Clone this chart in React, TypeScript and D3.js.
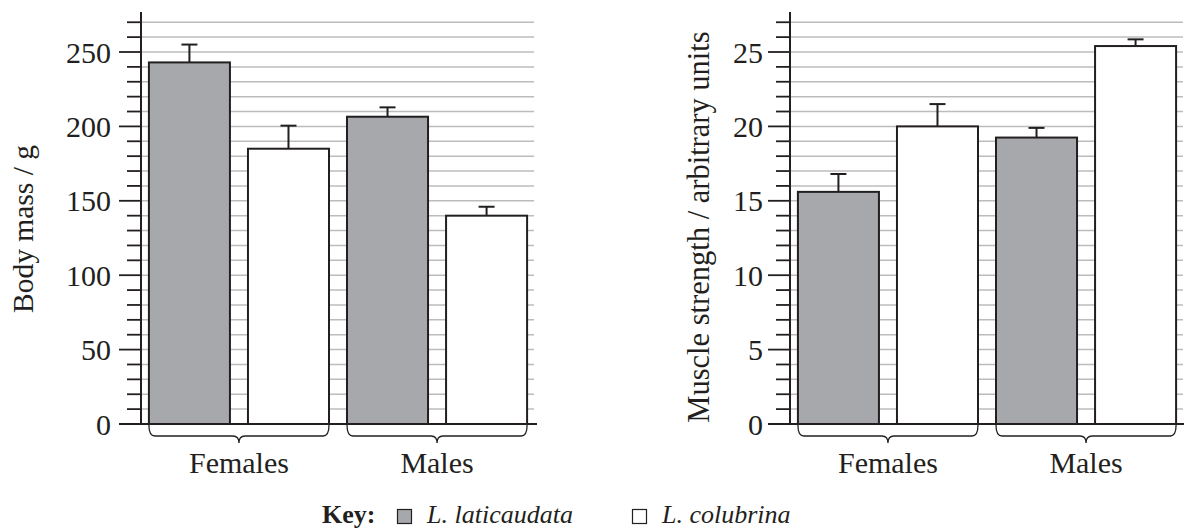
import * as d3 from "d3";

// groups and species
const groups = ["Females", "Males"];
const species = ["L. laticaudata", "L. colubrina"];

// body mass (g): means and error (upper bar length)
const massLaticaudata = [243, 206.5];
const massColubrina = [185, 140];
const massLaticaudataErr = [12, 6.3];
const massColubrinaErr = [15.5, 6];

// muscle strength (arbitrary units)
const strengthLaticaudata = [15.6, 19.25];
const strengthColubrina = [20.0, 25.4];
const strengthLaticaudataErr = [1.2, 0.65];
const strengthColubrinaErr = [1.5, 0.45];

// axis ticks
const massTicks = d3.range(0, 271, 10);
const massLabels = [0, 50, 100, 150, 200, 250];
const strengthTicks = d3.range(0, 28, 1);
const strengthLabels = [0, 5, 10, 15, 20, 25];

const INK = "#231f20";
const GREY = "#a7a8ab";
const GRID = "#bcbcbc";
const FONT = "Liberation Serif, serif";

function Brace({ x0, x1, y }: { x0: number; x1: number; y: number }) {
  const mid = (x0 + x1) / 2;
  const h = 11;
  const r = 6;
  const d = `M${x0},${y} Q${x0},${y + h} ${x0 + r},${y + h} L${mid - r},${y + h} Q${mid},${y + h} ${mid},${y + h + 7} Q${mid},${y + h} ${mid + r},${y + h} L${x1 - r},${y + h} Q${x1},${y + h} ${x1},${y}`;
  return <path d={d} fill="none" stroke={INK} strokeWidth={1.3} />;
}

function Panel({
  left,
  right,
  yMax,
  lat,
  col,
  latErr,
  colErr,
  ticks,
  labels,
  major,
  title,
  titleSize,
  labelX,
  titleX,
  titleY,
}: any) {
  const y = d3.scaleLinear([0, yMax], [424, 52]);
  const x0 = d3.scaleBand(groups, [left - 1, right]).paddingInner(0.0909).paddingOuter(0.045);
  const x1 = d3.scaleBand(species, [0, x0.bandwidth()]).paddingInner(0.182).paddingOuter(0);
  const gridEnd = right - 2;
  const rows = groups.map((g, i) => [
    { g, s: species[0], v: lat[i], e: latErr[i], fill: GREY },
    { g, s: species[1], v: col[i], e: colErr[i], fill: "#fff" },
  ]).flat();

  return (
    <g>
      {/* grid */}
      {ticks.filter((t: number) => t > 0).map((t: number) => (
        <line key={"g" + t} x1={left} x2={gridEnd} y1={y(t)} y2={y(t)} stroke={GRID} strokeWidth={1.5} />
      ))}
      {/* ticks */}
      {ticks.map((t: number) => (
        <line key={"t" + t} x1={left - (t % major === 0 ? 22 : 14)} x2={left} y1={y(t)} y2={y(t)} stroke={INK} strokeWidth={1.8} />
      ))}
      {labels.map((t: number) => (
        <text key={"l" + t} x={labelX} y={y(t)} dy="0.35em" textAnchor="end" fontSize={30} style={{ fontFamily: FONT }} fill={INK}>
          {t}
        </text>
      ))}
      {/* bars */}
      {rows.map((r) => {
        const bx = (x0(r.g) as number) + (x1(r.s) as number);
        const bw = x1.bandwidth();
        const cx = bx + bw / 2;
        return (
          <g key={r.g + r.s}>
            <line x1={cx} x2={cx} y1={y(r.v)} y2={y(r.v + r.e)} stroke={INK} strokeWidth={2} />
            <line x1={cx - 8} x2={cx + 8} y1={y(r.v + r.e)} y2={y(r.v + r.e)} stroke={INK} strokeWidth={2} />
            <rect x={bx} y={y(r.v)} width={bw} height={y(0) - y(r.v)} fill={r.fill} stroke={INK} strokeWidth={2} />
          </g>
        );
      })}
      {/* axes */}
      <line x1={left} x2={left} y1={12} y2={y(0)} stroke={INK} strokeWidth={2} />
      <line x1={left - 22} x2={right + 1} y1={y(0)} y2={y(0)} stroke={INK} strokeWidth={2} />
      {/* braces and group labels */}
      {groups.map((g) => {
        const gx = x0(g) as number;
        return (
          <g key={"b" + g}>
            <Brace x0={gx} x1={gx + x0.bandwidth()} y={425} />
            <text x={gx + x0.bandwidth() / 2} y={473} textAnchor="middle" fontSize={30} style={{ fontFamily: FONT }} fill={INK}>
              {g}
            </text>
          </g>
        );
      })}
      <text transform={`translate(${titleX},${titleY}) rotate(-90)`} textAnchor="middle" fontSize={titleSize} style={{ fontFamily: FONT }} fill={INK}>
        {title}
      </text>
    </g>
  );
}

export default function App() {
  return (
    <svg width={1184} height={530} style={{ position: "absolute", left: 0, top: 0, background: "#fff", fontFamily: FONT }}>
      <Panel
        left={141}
        right={536}
        yMax={250}
        lat={massLaticaudata}
        col={massColubrina}
        latErr={massLaticaudataErr}
        colErr={massColubrinaErr}
        ticks={massTicks}
        labels={massLabels}
        major={50}
        title="Body mass / g"
        titleSize={29.5}
        labelX={111}
        titleX={33}
        titleY={229}
      />
      <Panel
        left={790}
        right={1185}
        yMax={25}
        lat={strengthLaticaudata}
        col={strengthColubrina}
        latErr={strengthLaticaudataErr}
        colErr={strengthColubrinaErr}
        ticks={strengthTicks}
        labels={strengthLabels}
        major={5}
        title="Muscle strength / arbitrary units"
        titleSize={30.5}
        labelX={763}
        titleX={709}
        titleY={227}
      />
      {/* key */}
      <g fontSize={26} fill={INK} style={{ fontFamily: FONT }}>
        <text x={322} y={523} fontWeight="bold">Key:</text>
        <rect x={397.5} y={509.5} width={14} height={14} fill={GREY} stroke={INK} strokeWidth={1.2} />
        <text x={427} y={523} fontStyle="italic">{species[0]}</text>
        <rect x={632.5} y={509.5} width={14} height={14} fill="#fff" stroke={INK} strokeWidth={1.2} />
        <text x={662} y={523} fontStyle="italic">{species[1]}</text>
      </g>
    </svg>
  );
}
